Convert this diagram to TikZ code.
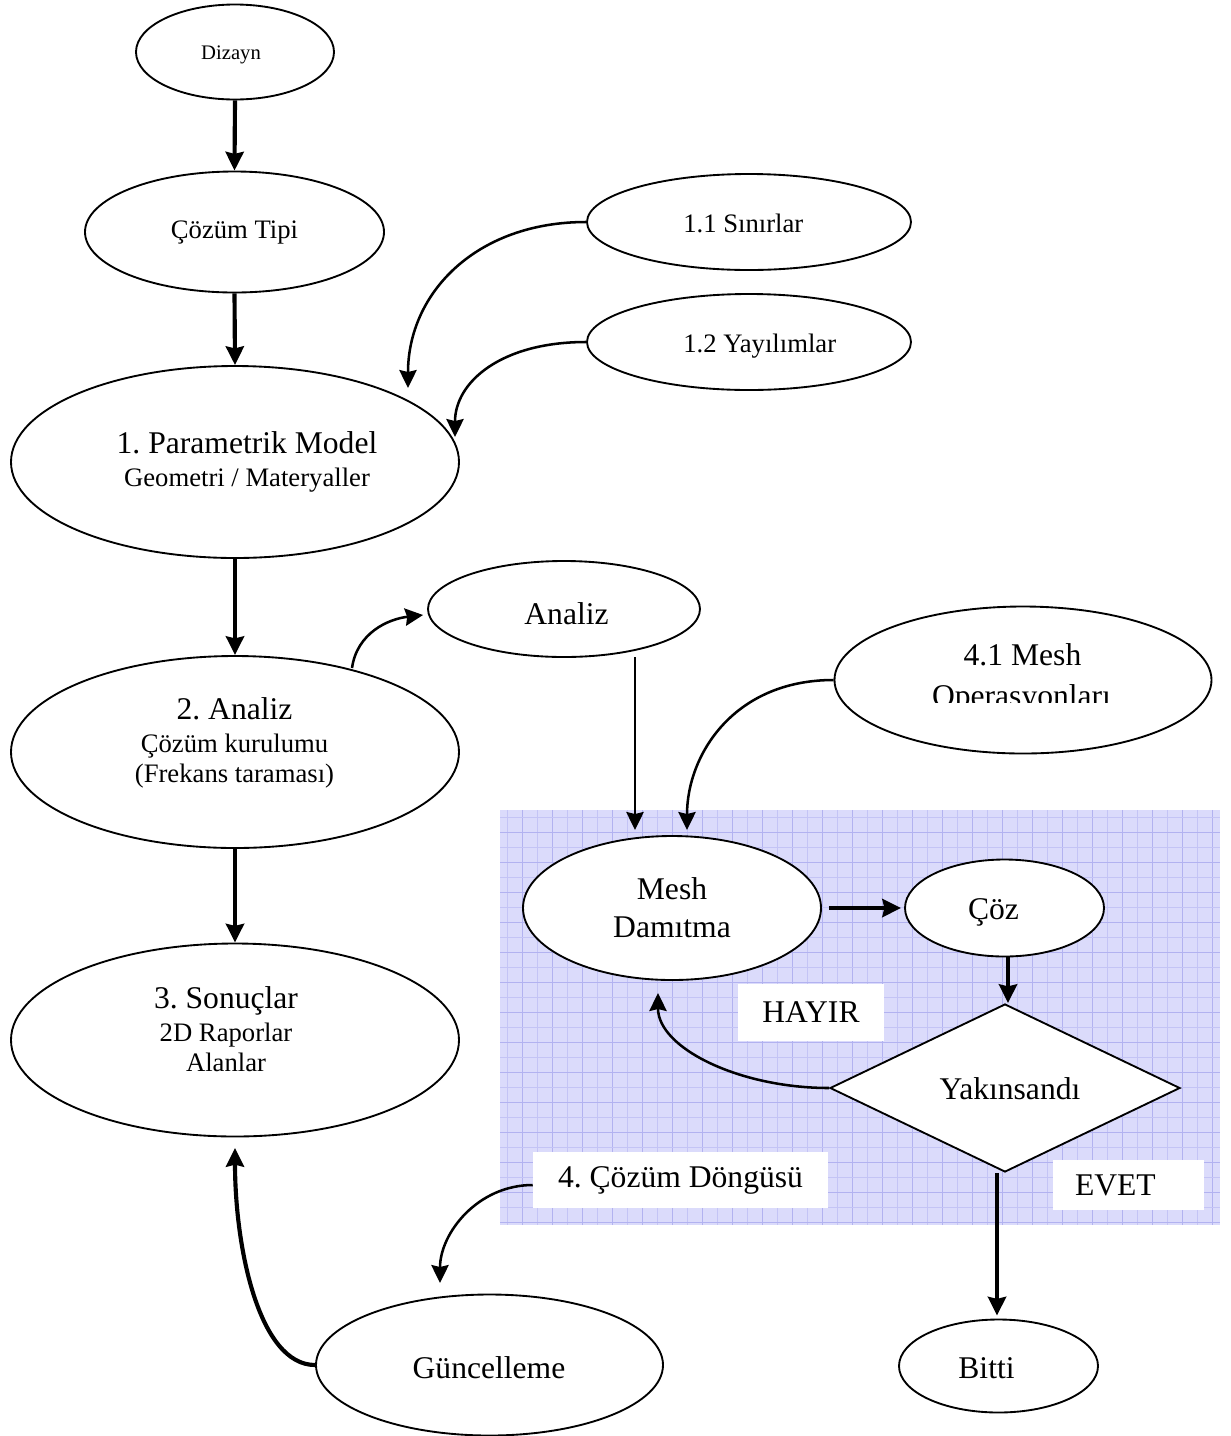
\documentclass[tikz,border=0pt]{standalone}
\usepackage{fontspec}
\setmainfont{Liberation Serif}
\usetikzlibrary{arrows.meta,shapes.geometric,calc}
\definecolor{shadec}{RGB}{219,219,251}
\definecolor{gridc}{RGB}{196,196,245}
\definecolor{gridd}{RGB}{178,178,240}
\newcommand\fbig{\fontsize{23.7pt}{28.5pt}\selectfont}
\newcommand\fsmall{\fontsize{20pt}{22.5pt}\selectfont}
\newcommand\ftiny{\fontsize{15.5pt}{18pt}\selectfont}
\def\pxu{0.75pt}
\frenchspacing
\begin{document}
\frenchspacing
\begin{tikzpicture}[x=0.75pt,y=-0.75pt,
  ell/.style={ellipse, draw, line width=1.4pt, fill=white, inner sep=0pt},
  txt/.style={inner sep=0pt, anchor=base},
  mtxt/.style={inner sep=0pt, align=center},
  thickarr/.style={line width=3.1pt, -{Stealth[length=14pt,width=13.5pt,inset=1.5pt]}},
  thinarr/.style={line width=1.9pt, -{Stealth[length=13.5pt,width=13pt,inset=1.5pt]}},
  wbox/.style={fill=white, inner sep=0pt},
  gline/.style={draw=gridc, line width=0.5pt},
  gmajor/.style={draw=gridd, line width=0.6pt}]
\useasboundingbox (0,0) rectangle (1231,1436);

% shaded grid area
\fill[shadec] (500,810) rectangle (1220,1225);
\foreach \gx in {507,537,...,1220} \draw[gline] (\gx,810) -- (\gx,1225);
\foreach \gx in {522,552,...,1220} \draw[gmajor] (\gx,810) -- (\gx,1225);
\foreach \gy in {817,847,...,1225} \draw[gline] (500,\gy) -- (1220,\gy);
\foreach \gy in {832,862,...,1225} \draw[gmajor] (500,\gy) -- (1220,\gy);

% ellipses
\node[ell, minimum width=198*\pxu, minimum height=95*\pxu] (diz) at (235,52) {};
\node[ell, minimum width=299*\pxu, minimum height=121*\pxu] (tipi) at (234.5,232) {};
\node[ell, minimum width=324*\pxu, minimum height=96*\pxu] (sin) at (749,222) {};
\node[ell, minimum width=324*\pxu, minimum height=96*\pxu] (yay) at (749,342) {};
\node[ell, minimum width=448*\pxu, minimum height=192*\pxu] (param) at (235,462) {};
\node[ell, minimum width=272*\pxu, minimum height=96*\pxu] (analiz) at (564,609) {};
\node[ell, minimum width=377*\pxu, minimum height=147*\pxu] (op41) at (1023,680) {};
\node[ell, minimum width=448*\pxu, minimum height=192*\pxu] (ana2) at (235,752) {};
\node[ell, minimum width=298*\pxu, minimum height=144*\pxu] (mesh) at (672,908) {};
\node[ell, minimum width=199*\pxu, minimum height=97*\pxu] (coz) at (1004.5,908) {};
\node[ell, minimum width=448*\pxu, minimum height=193*\pxu] (son) at (235,1040) {};
\node[ell, minimum width=347*\pxu, minimum height=141*\pxu] (guncel) at (489.5,1365) {};
\node[ell, minimum width=199*\pxu, minimum height=93*\pxu] (bitti) at (998.5,1366) {};
\node[diamond, draw, line width=1.4pt, fill=white, inner sep=0pt, aspect=2.08,
      minimum width=350*\pxu, minimum height=168*\pxu] (yak) at (1005,1088) {};

% texts
\node[txt, font=\ftiny] (dizt) at (231,59) {Dizayn};
\node[txt, font=\fsmall] (tipit) at (234.5,238) {Çözüm Tipi};
\node[txt, anchor=base west, font=\fsmall] (sint) at (683,232) {1.1 Sınırlar};
\node[txt, anchor=base west, font=\fsmall] (yayt) at (683,352) {1.2 Yayılımlar};
\node[mtxt, font=\fsmall] (paramt) at (247,462) {{\fbig 1. Parametrik Model}\\[1.9pt]Geometri / Materyaller};
\node[txt, font=\fbig] (analizt) at (566.5,624) {Analiz};
\node[txt, font=\fbig] (op41a) at (1022.5,665) {4.1 Mesh};
\begin{scope}
  \clip (835,600) rectangle (1212,702);
  \node[txt, font=\fbig] (op41b) at (1021.5,706) {Operasyonları};
\end{scope}
\node[mtxt, font=\fsmall] (ana2t) at (234.5,743) {{\fbig 2. Analiz}\\[1.8pt]Çözüm kurulumu\\(Frekans taraması)};
\node[mtxt, font=\fbig] (mesht) at (672,908) {Mesh\\Damıtma};
\node[txt, font=\fbig] (cozt) at (993.5,919) {Çöz};
\node[txt, font=\fbig] (yakt) at (1010,1099) {Yakınsandı};
\node[mtxt, font=\fsmall] (sont) at (226,1029) {{\fbig 3. Sonuçlar}\\[1.8pt]2D Raporlar\\Alanlar};
\node[txt, font=\fbig] (guncelt) at (489,1378) {Güncelleme};
\node[txt, font=\fbig] (bittit) at (986.5,1378) {Bitti};

% white label boxes
\node[wbox, font=\fbig, minimum width=146*\pxu, minimum height=57*\pxu] (hayir) at (811,1012) {HAYIR};
\node[wbox, font=\fbig, minimum width=151*\pxu, minimum height=50*\pxu, inner xsep=22*\pxu,
      text width=107*\pxu, align=left] (evet) at (1128.5,1185) {EVET};
\node[wbox, font=\fbig, minimum width=295*\pxu, minimum height=56*\pxu] (dongu) at (680.5,1180) {4. Çözüm Döngüsü};

% connectors
\draw[thickarr] (diz.south) -- (tipi.north);
\draw[thickarr] (tipi.south) -- (param.north);
\draw[thickarr] (param.south) -- (ana2.north);
\draw[thickarr] (ana2.south) -- (son.north);
\draw[thinarr] (sin.west) .. controls +(-110,0) and +(0,-95) .. ($(param.center)+(173,-74)$);
\draw[thinarr] (yay.west) .. controls +(-85,0) and +(0,-55) .. ($(param.center)+(220,-25)$);
\draw[thinarr] ($(ana2.center)+(117,-84)$) .. controls +(5,-35) and +(-35,4) .. ($(analiz.west)+(-4,6)$);
\draw[thinarr] ($(analiz.center)+(71,48)$) -- ($(mesh.center)+(-37,-78)$);
\draw[thinarr] (op41.west) .. controls +(-100,0) and +(0,-75) .. ($(mesh.center)+(15,-78)$);
\draw[thickarr] ($(mesh.east)+(7,0)$) -- ($(coz.west)+(-3,0)$);
\draw[thickarr] ($(coz.south)+(3.5,0)$) -- ($(yak.north)+(3,0)$);
\draw[thinarr] (yak.west) .. controls +(-90,0) and +(0,55) .. ($(mesh.center)+(-14,85)$);
\draw[thickarr] ($(yak.south)+(-8,0)$) -- ($(bitti.north)+(-1.5,-3)$);
\draw[thinarr] ($(dongu.west)+(0,5)$) .. controls +(-55,0) and +(0,-50) .. ($(guncel.center)+(-49.5,-82)$);
\draw[thickarr] (guncel.west) .. controls +(-56,0) and +(0,100) .. ($(son.center)+(0,108)$);
\end{tikzpicture}
\end{document}
